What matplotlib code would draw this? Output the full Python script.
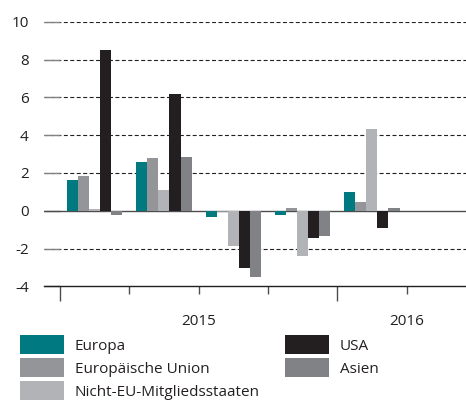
import matplotlib
matplotlib.use("Agg")
import matplotlib.pyplot as plt
import numpy as np

plt.rcParams['font.family'] = ['Open Sans', 'DejaVu Sans']

quarters = ['Q1 2015', 'Q2 2015', 'Q3 2015', 'Q4 2015', 'Q1 2016', 'Q2 2016']
europa = [1.62, 2.57, -0.32, -0.21, 0.99, 0.0]
eu = [1.83, 2.79, -0.07, 0.14, 0.46, 0.0]
nicht_eu = [0.09, 1.09, -1.87, -2.40, 4.32, 0.0]
usa = [8.50, 6.17, -3.02, -1.45, -0.92, 0.0]
asien = [-0.23, 2.84, -3.49, -1.34, 0.14, 0.0]

series_names = ['Europa', 'Europäische Union', 'Nicht-EU-Mitgliedsstaaten', 'USA', 'Asien']
series = [europa, eu, nicht_eu, usa, asien]
colors = ['#007A80', '#939598', '#B1B3B6', '#231F20', '#808285']

year_labels = ['2015', '2016']
yticks = [-4, -2, 0, 2, 4, 6, 8, 10]

W, H = 466, 403
fig = plt.figure(figsize=(W / 100, H / 100), dpi=100)
ax = fig.add_axes([44 / W, 1 - 286.3 / H, (466 - 44) / W, (286.3 - 21.7) / H])

px_per_q = 69.3
xmin = -16 / px_per_q
xmax = (466 - 60) / px_per_q
ax.set_xlim(xmin, xmax)
ax.set_ylim(-4, 10)

x = np.arange(len(quarters)) + 0.5
bw = 0.16
for k, (vals, c, name) in enumerate(zip(series, colors, series_names)):
    ax.bar(x + (k - 2) * bw, vals, width=bw, color=c, label=name, zorder=3, linewidth=0)

# gridlines
for yv in yticks:
    if yv == -4:
        continue
    if yv == 0:
        ax.axhline(0, color='#4d4d4d', lw=1.0, zorder=2)
    else:
        ax.axhline(yv, color='#231F20', lw=0.8, ls=(0, (3.6, 2.2)), zorder=1)

for s in ['top', 'right', 'left']:
    ax.spines[s].set_visible(False)
ax.spines['bottom'].set_color('#231F20')
ax.spines['bottom'].set_linewidth(1.0)

ax.set_yticks(yticks)
ax.set_yticklabels([str(v) for v in yticks])
ax.tick_params(axis='y', direction='in', length=11.5, width=1.0, color='#808285',
               pad=11, labelsize=11, labelcolor='#231F20')

ax.set_xticks([0, 4])
ax.set_xticklabels(['', ''])
ax.set_xticks([1, 2, 3, 5], minor=True)
ax.set_xticklabels(['', year_labels[0], '', year_labels[1]], minor=True)
ax.tick_params(axis='x', which='major', direction='out', length=11, width=1.0, color='#4d4d4d')
ax.tick_params(axis='x', which='minor', direction='out', length=6, width=1.0, color='#4d4d4d',
               pad=14, labelsize=11, labelcolor='#231F20')

handles, labels = ax.get_legend_handles_labels()
leg = fig.legend(handles, labels, ncol=2, loc='upper left',
                 bbox_to_anchor=(20 / W, 1 - 335 / H), frameon=False,
                 fontsize=11, handlelength=2.88, handleheight=1.54,
                 labelspacing=0.26, handletextpad=0.72, columnspacing=1.63,
                 borderpad=0, borderaxespad=0)
for t in leg.get_texts():
    t.set_color('#231F20')

fig.savefig('out.png', dpi=100)
